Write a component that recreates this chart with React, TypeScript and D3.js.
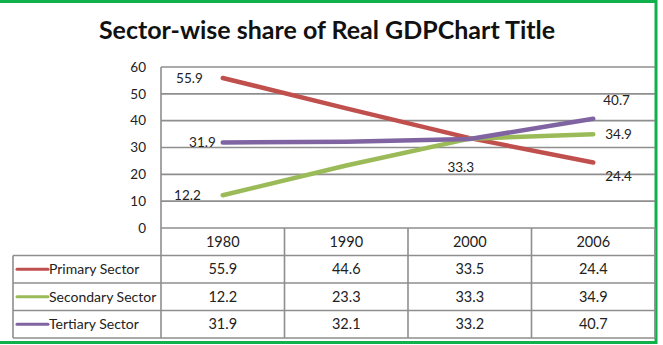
import React from "react";
import * as d3 from "d3";

// Chart data
const years = ["1980", "1990", "2000", "2006"];
const primary = [55.9, 44.6, 33.5, 24.4];
const secondary = [12.2, 23.3, 33.3, 34.9];
const tertiary = [31.9, 32.1, 33.2, 40.7];
const seriesNames = ["Primary Sector", "Secondary Sector", "Tertiary Sector"];
const yTicks = [0, 10, 20, 30, 40, 50, 60];
const title = "Sector-wise share of Real GDPChart Title";

const W = 663;
const H = 345;
const FONT = "Lato, 'Open Sans', sans-serif";
const colors = ["#C0504D", "#9BBB59", "#8064A2"];

// Which points carry a value label, and where the label sits relative to the point
const labelPlacement: { s: number; i: number; dx: number; dy: number; anchor: string }[] = [
  { s: 0, i: 0, dx: -20, dy: 0, anchor: "end" },
  { s: 0, i: 3, dx: 12, dy: 14, anchor: "start" },
  { s: 1, i: 0, dx: -22, dy: 0, anchor: "end" },
  { s: 1, i: 2, dx: -9, dy: 29, anchor: "middle" },
  { s: 1, i: 3, dx: 12, dy: 0, anchor: "start" },
  { s: 2, i: 0, dx: -7, dy: 0, anchor: "end" },
  { s: 2, i: 3, dx: 10, dy: -19, anchor: "start" },
];

export default function App() {
  const series = [primary, secondary, tertiary];

  const plotLeft = 161;
  const plotRight = 655;
  const tableLeft = 13;
  const x = d3.scaleBand<string>().domain(years).range([plotLeft, plotRight]);
  const y = d3.scaleLinear().domain([0, 60]).range([228, 67]);
  const cx = (yr: string) => (x(yr) as number) + x.bandwidth() / 2;

  const line = d3
    .line<number>()
    .x((_, i) => cx(years[i]))
    .y((v) => y(v));

  const headerTop = y(0);
  const rowH = 27.5;
  const rowTop = (r: number) => headerTop + rowH * (r + 1);
  const tableBottom = rowTop(series.length);
  const grid = "#8E8E8E";

  return (
    <svg
      width={W}
      height={H}
      style={{ position: "fixed", left: 0, top: 0, display: "block", background: "#fff" }}
      fontFamily={FONT}
    >
      {/* outer frame */}
      <rect x={-4} y={1.5} width={660} height={341} fill="#fff" stroke="#10B04C" strokeWidth={3} />

      <text
        x={327}
        y={39}
        textAnchor="middle"
        fontSize={25}
        fontWeight={700}
        fill="#111"
      >
        {title}
      </text>

      {/* horizontal gridlines */}
      {yTicks.map((t) => (
        <line key={"g" + t} x1={plotLeft} x2={plotRight} y1={y(t)} y2={y(t)} stroke={grid} strokeWidth={1.6} />
      ))}
      <line x1={plotLeft} x2={plotLeft} y1={y(60)} y2={tableBottom} stroke={grid} strokeWidth={1.6} />

      {/* y axis labels */}
      {yTicks.map((t) => (
        <text key={"t" + t} x={146} y={y(t)} dy="0.35em" textAnchor="end" fontSize={13.5} fill="#222">
          {t}
        </text>
      ))}

      {/* data table */}
      <g stroke={grid} strokeWidth={1.6} fill="none">
        <line x1={plotRight} x2={plotRight} y1={headerTop} y2={tableBottom} />
        {years.slice(1).map((yr) => (
          <line key={"c" + yr} x1={x(yr)} x2={x(yr)} y1={headerTop} y2={tableBottom} />
        ))}
        {series.map((_, r) => (
          <line key={"r" + r} x1={tableLeft} x2={plotRight} y1={rowTop(r)} y2={rowTop(r)} />
        ))}
        <line x1={tableLeft} x2={plotRight} y1={tableBottom} y2={tableBottom} />
        <line x1={tableLeft} x2={tableLeft} y1={rowTop(0)} y2={tableBottom} />
      </g>

      {years.map((yr) => (
        <text key={"h" + yr} x={cx(yr)} y={headerTop + rowH / 2} dy="0.35em" textAnchor="middle" fontSize={14.5} fill="#222">
          {yr}
        </text>
      ))}

      {series.map((vals, r) => (
        <g key={"row" + r}>
          <line
            x1={17}
            x2={48}
            y1={rowTop(r) + rowH / 2}
            y2={rowTop(r) + rowH / 2}
            stroke={colors[r]}
            strokeWidth={3}
            strokeLinecap="round"
          />
          <text x={49} y={rowTop(r) + rowH / 2} dy="0.35em" fontSize={14} fill="#222">
            {seriesNames[r]}
          </text>
          {vals.map((v, i) => (
            <text
              key={i}
              x={cx(years[i])}
              y={rowTop(r) + rowH / 2}
              dy="0.35em"
              textAnchor="middle"
              fontSize={14.5}
              fill="#222"
            >
              {v.toFixed(1)}
            </text>
          ))}
        </g>
      ))}

      {/* series lines */}
      {series.map((vals, r) => (
        <path
          key={"l" + r}
          d={line(vals) as string}
          fill="none"
          stroke={colors[r]}
          strokeWidth={4.5}
          strokeLinecap="round"
          strokeLinejoin="round"
        />
      ))}

      {/* value labels */}
      {labelPlacement.map((p) => {
        const v = series[p.s][p.i];
        return (
          <text
            key={"v" + p.s + p.i}
            x={cx(years[p.i]) + p.dx}
            y={y(v) + p.dy}
            dy="0.35em"
            textAnchor={p.anchor}
            fontSize={13.5}
            fill="#222"
          >
            {v.toFixed(1)}
          </text>
        );
      })}
    </svg>
  );
}
